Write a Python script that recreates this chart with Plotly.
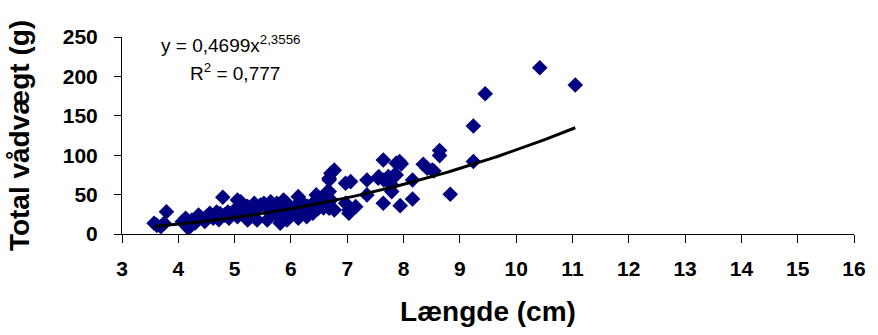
import plotly.graph_objects as go
import numpy as np

# Length (cm) and total wet weight (g)
length_cm = [
    3.57, 3.69, 3.75, 3.79, 3.62,
    4.07, 4.13, 4.18, 4.18, 4.24, 4.36, 4.42, 4.50, 4.56, 4.62, 4.30, 4.47,
    4.68, 4.74, 4.79, 4.82, 4.88, 4.94, 5.00, 5.05, 5.11, 5.20, 4.72, 4.90,
    5.11, 5.17, 5.23, 5.29, 5.35, 5.40, 5.46, 5.52, 5.58, 5.64, 5.70, 5.75,
    5.81, 5.87, 5.93, 5.98, 6.07, 6.13, 6.16, 6.22, 6.30, 6.39, 6.45, 6.54,
    6.62, 6.65, 6.68, 6.71,
    5.23, 5.40, 5.58, 5.75, 5.81, 5.93, 6.13, 6.28, 6.39, 5.05, 5.32, 5.62,
    5.90, 6.02, 6.48, 6.58,
    6.68, 6.77, 6.68, 6.71, 6.68, 6.77, 6.97, 7.06, 6.97, 7.03, 7.15, 7.03,
    7.35, 7.35, 7.55, 7.64, 7.73, 7.79, 7.87, 7.87, 7.93, 7.64, 7.94, 7.79,
    7.56, 7.65, 7.84, 7.96,
    8.16, 8.16, 8.35, 8.42, 8.51, 8.54, 8.64, 8.64, 8.83,
    9.24, 9.24, 9.45, 10.42, 11.05,
]
weight_g = [
    13.6, 9.3, 13.6, 28.3, 11.0,
    15.6, 20.0, 13.6, 7.2, 17.8, 24.0, 20.0, 22.0, 26.3, 20.0, 14.0, 16.0,
    28.0, 26.0, 46.6, 24.0, 28.0, 26.0, 30.5, 43.0, 32.6, 34.7, 18.0, 20.0,
    41.0, 30.5, 34.7, 22.0, 39.0, 32.6, 36.8, 39.0, 34.7, 41.0, 30.5, 39.0,
    34.7, 43.0, 39.0, 30.5, 34.7, 47.4, 26.3, 39.0, 34.7, 39.0, 49.6, 36.8,
    45.4, 53.8, 68.6, 77.0,
    17.8, 17.8, 17.8, 22.0, 13.6, 17.8, 20.0, 22.0, 26.3, 22.0, 26.0, 28.0,
    26.0, 30.0, 32.0, 33.0,
    70.8, 81.0, 53.8, 43.0, 32.6, 30.5, 64.4, 66.5, 39.0, 30.5, 34.7, 26.3,
    68.6, 49.6, 70.8, 94.0, 72.8, 62.3, 75.0, 89.8, 91.9, 39.0, 36.0, 53.8,
    72.8, 68.6, 75.0, 89.0,
    68.6, 44.5, 88.5, 83.5, 81.0, 80.0, 106.0, 99.5, 50.4,
    92.0, 137.0, 178.0, 211.0, 189.0,
]

# Trend line coefficients as printed on the chart
coef_a = 0.4699
coef_b = 2.3556
r_squared = "0,777"

x_ticks = list(range(3, 17))
y_ticks = [0, 50, 100, 150, 200, 250]

FONT = "Liberation Sans, Arial, sans-serif"

xs = np.linspace(min(length_cm), max(length_cm), 120)
ys = coef_a * xs ** coef_b

fig = go.Figure()
fig.add_trace(go.Scatter(
    x=length_cm, y=weight_g, mode="markers",
    marker=dict(symbol="diamond", size=12, color="#000080",
                line=dict(width=0)),
    showlegend=False,
))
fig.add_trace(go.Scatter(
    x=xs, y=ys, mode="lines",
    line=dict(color="black", width=3),
    showlegend=False,
))

fig.update_layout(
    width=878, height=335,
    margin=dict(l=122, r=12, t=37, b=101),
    paper_bgcolor="white", plot_bgcolor="white",
    font=dict(family=FONT, color="black"),
    xaxis=dict(
        range=[3, 16], tickvals=x_ticks, ticktext=[str(v) for v in x_ticks],
        showgrid=False, zeroline=False,
        showline=True, linecolor="black", linewidth=1,
        ticks="outside", ticklen=8, tickcolor="black", tickwidth=1,
        tickfont=dict(family=FONT, size=21, weight="bold"),
        ticklabelstandoff=8,
        title=dict(text="Længde (cm)", font=dict(family=FONT, size=28, weight="bold"),
                   standoff=22),
    ),
    yaxis=dict(
        range=[0, 250], tickvals=y_ticks, ticktext=[str(v) for v in y_ticks],
        showgrid=False, zeroline=False,
        showline=True, linecolor="black", linewidth=1,
        ticks="outside", ticklen=7, tickcolor="black", tickwidth=1,
        tickfont=dict(family=FONT, size=21, weight="bold"),
        ticklabelstandoff=12,
        title=dict(text="Total vådvægt (g)", font=dict(family=FONT, size=28, weight="bold"),
                   standoff=24),
    ),
    annotations=[
        dict(xref="paper", yref="paper",
             x=(160 - 122) / 744, y=(234 - 44) / 197,
             xanchor="left", yanchor="middle", showarrow=False,
             text=f"y = {str(coef_a).replace('.', ',')}x<sup>{str(coef_b).replace('.', ',')}</sup>",
             font=dict(family=FONT, size=19, color="black")),
        dict(xref="paper", yref="paper",
             x=(189 - 122) / 744, y=(234 - 72) / 197,
             xanchor="left", yanchor="middle", showarrow=False,
             text=f"R<sup>2</sup> = {r_squared}",
             font=dict(family=FONT, size=19, color="black")),
    ],
)

fig.write_html("out.html")
